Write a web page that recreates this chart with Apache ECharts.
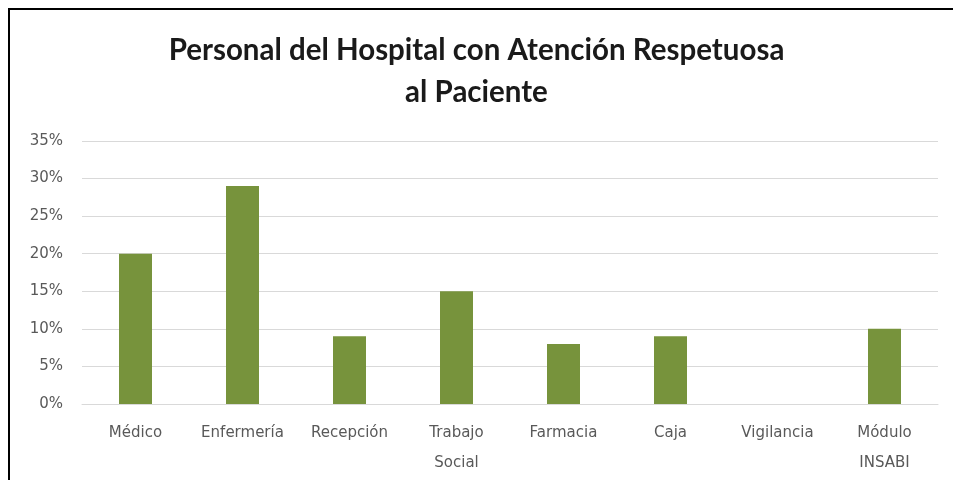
<!DOCTYPE html>
<html>
<head>
<meta charset="utf-8">
<script src="https://cdn.jsdelivr.net/npm/echarts@6/dist/echarts.min.js"></script>
<style>
  html, body { margin: 0; padding: 0; background: #fff; }
  #chart { width: 953px; height: 480px; }
</style>
</head>
<body>
<div id="chart"></div>
<script>
  // datos del grafico
  var categorias = ['Médico', 'Enfermería', 'Recepción', 'Trabajo\nSocial', 'Farmacia', 'Caja', 'Vigilancia', 'Módulo\nINSABI'];
  var porcentajes = [20, 29, 9, 15, 8, 9, 0, 10];
  var ticksY = [0, 5, 10, 15, 20, 25, 30, 35];

  var myChart = echarts.init(document.getElementById('chart'));
  myChart.setOption({
    animation: false,
    title: {
      text: 'Personal del Hospital con Atención Respetuosa\nal Paciente',
      left: 'center',
      top: 24,
      textStyle: {
        fontFamily: 'Lato',
        fontWeight: 'bold',
        fontSize: 29.5,
        lineHeight: 42,
        color: '#1a1a1a'
      }
    },
    graphic: [
      {
        type: 'polyline',
        shape: { points: [[9, 480], [9, 9], [953, 9]] },
        style: { stroke: '#000', lineWidth: 2, fill: null }
      }
    ],
    grid: { left: 82, right: 15, top: 141, bottom: 76 },
    xAxis: {
      type: 'category',
      data: categorias,
      axisTick: { show: false },
      axisLine: { lineStyle: { color: '#d9d9d9', width: 1 } },
      axisLabel: {
        color: '#595959',
        fontFamily: 'DejaVu Sans',
        fontSize: 15,
        lineHeight: 30,
        margin: 14,
        interval: 0
      }
    },
    yAxis: {
      type: 'value',
      min: ticksY[0],
      max: ticksY[ticksY.length - 1],
      interval: 5,
      axisLine: { show: false },
      axisTick: { show: false },
      axisLabel: {
        color: '#595959',
        fontFamily: 'DejaVu Sans',
        fontSize: 15,
        margin: 19,
        formatter: '{value}%'
      },
      splitLine: { lineStyle: { color: '#d9d9d9', width: 1 } }
    },
    series: [
      {
        type: 'bar',
        data: porcentajes,
        barWidth: 33,
        itemStyle: { color: '#77933c' }
      }
    ]
  });
</script>
</body>
</html>
